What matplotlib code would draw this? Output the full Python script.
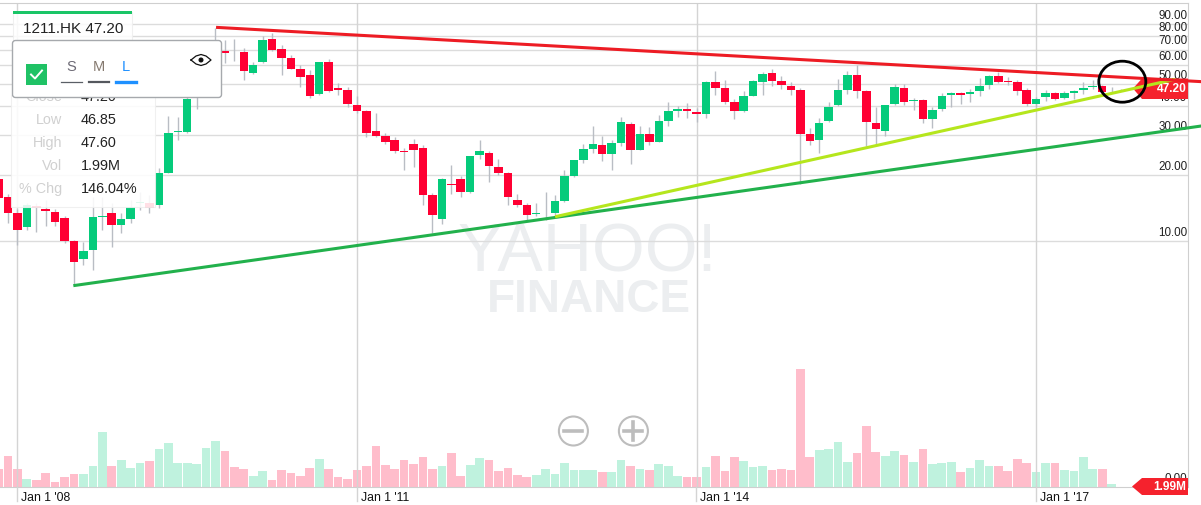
## plot.py: monthly candle chart 1211.HK with trend lines
# -----------------------------------------------------------------------------
import numpy as np
from matplotlib import (pyplot as plt, patches as pat)

plt.rcParams['font.family'] = ['Liberation Sans', 'DejaVu Sans']

# -----------------------------------------------------------------------------
# section_a: data (month index 0 = Jan 2008)
first_month = -2
opens = [19.2, 15.9, 13.5, 11.6, 14.5, 14.0, 13.65, 12.75, 10.0, 8.2,
    9.07, 12.85, 13.4, 11.85, 12.65, 15.0, 14.9, 14.65, 20.4, 31.0,
    31.0, 44.0, 44.7, 61.1, 69.2, 68.5, 68.0, 55.8, 61.8, 77.6,
    70.6, 64.6, 57.7, 54.3, 45.0, 62.0, 47.7, 47.0, 40.3, 38.0,
    31.2, 29.8, 28.4, 25.5, 27.4, 26.2, 16.25, 12.6, 18.3, 19.1,
    16.8, 24.5, 25.0, 21.7, 20.4, 15.45, 14.65, 13.3, 13.4, 13.5,
    15.25, 19.8, 23.3, 26.0, 27.0, 24.8, 27.6, 33.4, 25.8, 30.4,
    28.0, 34.45, 38.1, 38.75, 37.85, 37.1, 50.7, 48.0, 41.5, 38.0,
    44.45, 50.9, 55.4, 51.2, 48.75, 47.0, 30.3, 28.4, 34.45, 40.45,
    47.0, 54.3, 46.4, 33.95, 31.2, 40.85, 47.75, 42.25, 42.5, 35.15,
    38.75, 44.5, 45.4, 45.0, 46.4, 49.2, 53.95, 51.35, 51.0, 46.85,
    40.7, 43.6, 45.7, 43.45, 45.7, 47.0, 48.2, 48.8, 46.9, 47.4]
closes = [15.7, 13.5, 11.25, 14.6, 14.2, 13.7, 12.3, 10.0, 7.9, 9.0,
    12.85, 13.1, 11.85, 12.6, 14.3, 15.15, 14.25, 20.3, 30.5, 31.3,
    42.8, 44.7, 61.1, 69.7, 67.4, 68.0, 56.8, 60.0, 76.7, 69.7,
    64.6, 57.9, 53.3, 44.1, 62.0, 46.4, 47.1, 40.7, 38.1, 30.6,
    29.8, 28.0, 25.4, 25.2, 25.8, 16.2, 13.2, 19.1, 18.05, 16.8,
    24.3, 25.55, 21.8, 20.4, 15.85, 14.6, 13.25, 13.5, 13.45, 15.25,
    19.8, 23.2, 25.9, 27.5, 24.8, 27.6, 34.0, 25.8, 30.25, 28.0,
    34.45, 38.25, 38.75, 38.0, 37.1, 51.0, 48.0, 41.6, 38.0, 44.3,
    51.4, 54.85, 51.5, 49.4, 47.0, 30.3, 28.3, 33.7, 39.8, 47.0,
    54.3, 46.55, 34.25, 31.75, 40.45, 48.2, 41.8, 42.5, 35.15, 38.5,
    44.3, 45.4, 44.7, 46.2, 48.75, 53.8, 50.7, 50.9, 46.7, 40.7,
    43.0, 45.4, 43.1, 45.55, 46.55, 47.75, 48.65, 46.1, 47.15, 47.2]
lows = [14.9, 12.1, 9.6, 11.25, 11.05, 11.7, 11.7, 9.75, 6.1, 7.7,
    7.27, 11.25, 9.4, 10.85, 12.1, 13.9, 13.4, 14.15, 20.3, 28.5,
    30.5, 38.8, 44.0, 60.0, 61.5, 62.8, 52.0, 55.1, 61.1, 69.3,
    54.5, 57.6, 48.5, 43.2, 44.7, 46.1, 44.7, 39.5, 37.2, 29.5,
    29.5, 27.4, 24.9, 21.0, 21.6, 14.65, 10.85, 12.0, 16.35, 15.9,
    16.6, 23.5, 18.65, 19.95, 14.65, 14.4, 12.5, 13.0, 12.5, 13.2,
    15.15, 19.6, 22.65, 25.05, 23.15, 21.0, 26.9, 22.3, 25.65, 27.0,
    27.9, 32.8, 36.0, 35.6, 34.25, 35.4, 44.7, 40.85, 35.05, 37.85,
    44.3, 44.7, 48.75, 47.6, 44.7, 18.3, 27.15, 24.9, 34.05, 40.05,
    45.1, 43.2, 26.7, 27.15, 29.7, 40.45, 40.45, 38.5, 33.95, 32.05,
    38.25, 39.8, 40.85, 41.8, 44.3, 47.3, 50.2, 49.55, 44.7, 40.05,
    39.8, 42.25, 42.5, 42.9, 42.8, 45.1, 47.3, 44.7, 45.9, 46.85]
highs = [20.0, 16.5, 14.1, 14.9, 14.9, 15.4, 14.0, 13.0, 10.1, 9.9,
    16.0, 16.0, 14.9, 13.4, 15.4, 16.8, 16.25, 21.4, 36.4, 36.0,
    47.0, 47.0, 63.2, 86.8, 76.9, 77.3, 70.8, 62.2, 79.9, 82.1,
    73.2, 66.3, 60.1, 57.2, 62.0, 63.6, 50.5, 48.2, 44.3, 38.5,
    37.2, 30.5, 29.3, 26.2, 28.7, 27.0, 16.6, 19.3, 22.1, 19.75,
    24.3, 28.5, 25.4, 23.5, 20.65, 16.35, 14.9, 14.9, 16.8, 16.25,
    21.0, 23.3, 27.4, 32.8, 29.8, 28.5, 35.75, 34.25, 32.95, 32.6,
    36.5, 41.7, 40.1, 41.1, 39.15, 51.4, 56.6, 51.8, 42.8, 46.7,
    51.8, 55.95, 57.6, 53.9, 50.7, 47.7, 32.05, 35.4, 41.7, 52.2,
    56.85, 60.1, 47.0, 39.8, 40.45, 49.9, 49.9, 43.25, 42.8, 39.55,
    45.4, 46.2, 46.05, 47.3, 52.7, 54.7, 56.1, 53.3, 51.8, 47.75,
    43.7, 47.0, 46.2, 46.7, 47.0, 51.0, 51.8, 49.3, 48.2, 47.6]
volumes = [110, 188, 110, 48, 40, 86, 32, 62, 76, 76,
    126, 328, 128, 164, 114, 144, 156, 230, 262, 142,
    142, 138, 236, 276, 214, 118, 106, 64, 94, 44,
    100, 82, 64, 112, 166, 106, 60, 46, 100, 128,
    248, 130, 106, 160, 136, 182, 106, 124, 202, 68,
    130, 172, 160, 94, 112, 70, 58, 74, 106, 80,
    142, 104, 102, 100, 92, 90, 160, 128, 106, 100,
    140, 128, 64, 62, 60, 122, 188, 94, 178, 156,
    118, 124, 100, 110, 102, 710, 180, 224, 226, 268,
    148, 206, 364, 212, 184, 214, 190, 148, 230, 136,
    142, 148, 90, 114, 160, 128, 124, 94, 166, 142,
    88, 142, 142, 100, 98, 178, 106, 106, 16, 2]

price_ticks = [10, 20, 30, 40, 50, 60, 70, 80, 90]
year_months = [0, 36, 72, 108]
year_labels = ["Jan 1 '08", "Jan 1 '11", "Jan 1 '14", "Jan 1 '17"]

# hand drawn trend lines: (month, month), (price, price)
red_line = ((21.06, 125.5), (87.0, 51.0))
green_line = ((5.93, 125.5), (6.07, 32.8))
lime_line = ((57.0, 122.75), (12.95, 52.2))

table_labels = ['Low', 'High', 'Vol', '% Chg']
table_values = ['46.85', '47.60', '1.99M', '146.04%']

# -----------------------------------------------------------------------------
# section_b: figure and axes
width, height = 1201, 505
fig = plt.figure(figsize=(width/100, height/100), dpi=100, facecolor='white')
rect = [0, (height-487)/height, 1188/width, 484/height]
ax = fig.add_axes(rect, zorder=2)
ax_vol = fig.add_axes(rect, zorder=1, sharex=ax)
ax_ui = fig.add_axes([0, 0, 1, 1], zorder=5)
ax.patch.set_visible(False)
ax_vol.patch.set_visible(False)
ax_ui.patch.set_visible(False)
ax_ui.set_xlim(0, width)
ax_ui.set_ylim(height, 0)
ax_ui.axis('off')

months = first_month + np.arange(len(opens))
opens, closes = np.array(opens), np.array(closes)
is_up = closes >= opens
up_color, down_color = '#05cb7b', '#ff0033'

# price axis is log like, shifted a little
ax.set_yscale('function', functions=(lambda p: np.log(p+1.2), lambda v: np.exp(v)-1.2))
ax.set_xlim(-1.845, 124.1)
ax.set_ylim(-0.161, 110.4)
ax_vol.set_ylim(0, 2904)

for aa in (ax, ax_vol):
    aa.tick_params(left=False, bottom=False, labelleft=False, labelbottom=False)
for spine in ax_vol.spines.values():
    spine.set_visible(False)
for name, spine in ax.spines.items():
    spine.set_color('#cfcfcf')
    spine.set_visible(name in ('top', 'right', 'bottom'))

# -----------------------------------------------------------------------------
# section_c: grid and watermark
ax.set_yticks(price_ticks)
ax.yaxis.set_minor_locator(plt.NullLocator())
ax.yaxis.grid(True, color='#dcdcdc', linewidth=1.0, zorder=0)
ax.set_axisbelow(True)
for month in year_months:
    ax.plot((month, month), (-0.161, 110.4), color='#d4d4d4', linewidth=1.0, zorder=1)
    ax_ui.plot((17.4+9.43*month,)*2, (487, 501), color='#d4d4d4', linewidth=1.0, zorder=0)

fig.text(587/width, 1-271/height, 'YAHOO!', ha='center', va='baseline', fontsize=49,
    color='#eceef0', zorder=0.5)
fig.text(589/width, 1-312/height, 'FINANCE', ha='center', va='baseline', fontsize=33,
    fontweight='bold', color='#eceef0', zorder=0.5)

# -----------------------------------------------------------------------------
# section_d: candles and volume
ax.vlines(months, lows, highs, color='#b9bdc4', linewidth=1.0, zorder=2)
body_low = np.minimum(opens, closes)
body_size = np.maximum(np.abs(closes-opens), 0.12)
ax.bar(months, body_size, bottom=body_low, width=0.9,
    color=np.where(is_up, up_color, down_color), linewidth=0, zorder=3)
ax_vol.bar(months, volumes, width=0.92,
    color=np.where(is_up, '#bff2de', '#ffbdcb'), linewidth=0, zorder=2)

# -----------------------------------------------------------------------------
# section_e: tick labels
for tick in price_ticks:
    ax.annotate(f'{tick:.2f}', (1, tick), xycoords=('axes fraction', 'data'),
        xytext=(-0.5, 1.5), textcoords='offset points', ha='right', va='bottom',
        fontsize=8.4, color='#222222', zorder=4)
ax_vol.annotate('0.00', (1, 0), xycoords=('axes fraction', 'data'),
    xytext=(-0.5, 1.5), textcoords='offset points', ha='right', va='bottom',
    fontsize=8.4, color='#222222')
for month, label in zip(year_months, year_labels):
    ax.annotate(label, (month, 0), xycoords=('data', 'axes fraction'),
        xytext=(2.8, -8), textcoords='offset points', ha='left', va='center',
        fontsize=8.8, color='#111111', annotation_clip=False)

# -----------------------------------------------------------------------------
# section_f: price and volume flags
ax_ui.add_patch(pat.Polygon([(1133, 88.5), (1142, 78.5), (1188, 78.5), (1188, 99), (1142, 99)],
    facecolor='#f5222d', edgecolor='none', zorder=2))
ax_ui.text(1171.5, 89.5, f'{closes[-1]:.2f}', color='white', fontsize=8.6, fontweight='bold',
    ha='center', va='center', zorder=3)
ax_ui.add_patch(pat.Polygon([(1132, 486.5), (1142, 478), (1188, 478), (1188, 495), (1142, 495)],
    facecolor='#f5222d', edgecolor='none', zorder=2))
ax_ui.text(1170, 486.5, '1.99M', color='white', fontsize=8.6, fontweight='bold',
    ha='center', va='center', zorder=3)

# -----------------------------------------------------------------------------
# section_g: trend lines and circle, painted over the chart
for line, color in ((green_line, '#22b14c'), (lime_line, '#b5e61d'), (red_line, '#ed1c24')):
    ax_ui.plot(line[0], line[1], transform=ax.transData, color=color, linewidth=2.2,
        clip_on=False, zorder=4, solid_capstyle='butt')
ax_ui.add_patch(pat.Ellipse((1122.3, 81.7), 47, 41, fill=False, edgecolor='black',
    linewidth=2.0, zorder=5))

# -----------------------------------------------------------------------------
# section_h: panels and buttons
ax_ui.add_patch(pat.Rectangle((11, 95), 144, 112, facecolor='white', alpha=0.88,
    edgecolor='#eeeeee', linewidth=0.8, zorder=6))
ax_ui.text(62, 97, 'Close', ha='right', va='center', fontsize=10.4, color='#d0d0d0', zorder=7)
ax_ui.text(81, 97, '47.20', ha='left', va='center', fontsize=10.4, color='#222222', zorder=7)
for row, (label, value) in enumerate(zip(table_labels, table_values)):
    ax_ui.text(62, 120+23*row, label, ha='right', va='center', fontsize=10.4,
        color='#d0d0d0', zorder=7)
    ax_ui.text(81, 120+23*row, value, ha='left', va='center', fontsize=10.4,
        color='#222222', zorder=7)

ax_ui.add_patch(pat.Rectangle((13, 12), 119, 29, facecolor='white', alpha=0.85,
    edgecolor='#eeeeee', linewidth=0.8, zorder=6))
ax_ui.add_patch(pat.Rectangle((13, 11), 119, 3, facecolor='#1ac567', edgecolor='none', zorder=7))
ax_ui.text(73, 29, '1211.HK 47.20', ha='center', va='center', fontsize=11, color='#222222', zorder=7)

ax_ui.add_patch(pat.FancyBboxPatch((14.5, 42.5), 205, 53, boxstyle='round,pad=2,rounding_size=3',
    facecolor='white', edgecolor='#a6a9ad', linewidth=1.0, zorder=8))
ax_ui.add_patch(pat.Rectangle((26, 64), 21, 21, facecolor='#1fc265', edgecolor='none', zorder=9))
ax_ui.plot((31, 35, 42), (74.5, 78.5, 70.5), color='white', linewidth=1.4, zorder=10)
for xx, label, color, line_color, line_width, x0, x1 in (
        (71.5, 'S', '#6d6a75', '#5a5f66', 0.9, 61, 82),
        (98.7, 'M', '#85796f', '#55585e', 1.6, 89, 109),
        (126, 'L', '#1e90ff', '#1e90ff', 2.4, 116, 136)):
    ax_ui.text(xx, 67, label, ha='center', va='center', fontsize=10.5, color=color, zorder=9)
    ax_ui.plot((x0, x1), (82, 82), color=line_color, linewidth=line_width, zorder=9)
eye_x = np.array([191, 196, 201, 206, 211, 206, 201, 196, 191])
eye_y = np.array([60, 56, 54.5, 56, 60, 64, 65.5, 64, 60])
ax_ui.plot(eye_x, eye_y, color='#111111', linewidth=0.9, zorder=9)
ax_ui.add_patch(pat.Circle((201, 60), 1.8, color='#111111', zorder=9))

for xx, has_plus in ((573.4, False), (633.4, True)):
    ax_ui.add_patch(pat.Circle((xx, 431), 14.5, fill=False, edgecolor='#bdbdbd',
        linewidth=1.5, zorder=6))
    ax_ui.plot((xx-9, xx+9), (431, 431), color='#bdbdbd', linewidth=2.6, zorder=6)
    if has_plus:
        ax_ui.plot((xx, xx), (422, 440), color='#bdbdbd', linewidth=2.6, zorder=6)

fig.savefig('out.png', dpi=100)
